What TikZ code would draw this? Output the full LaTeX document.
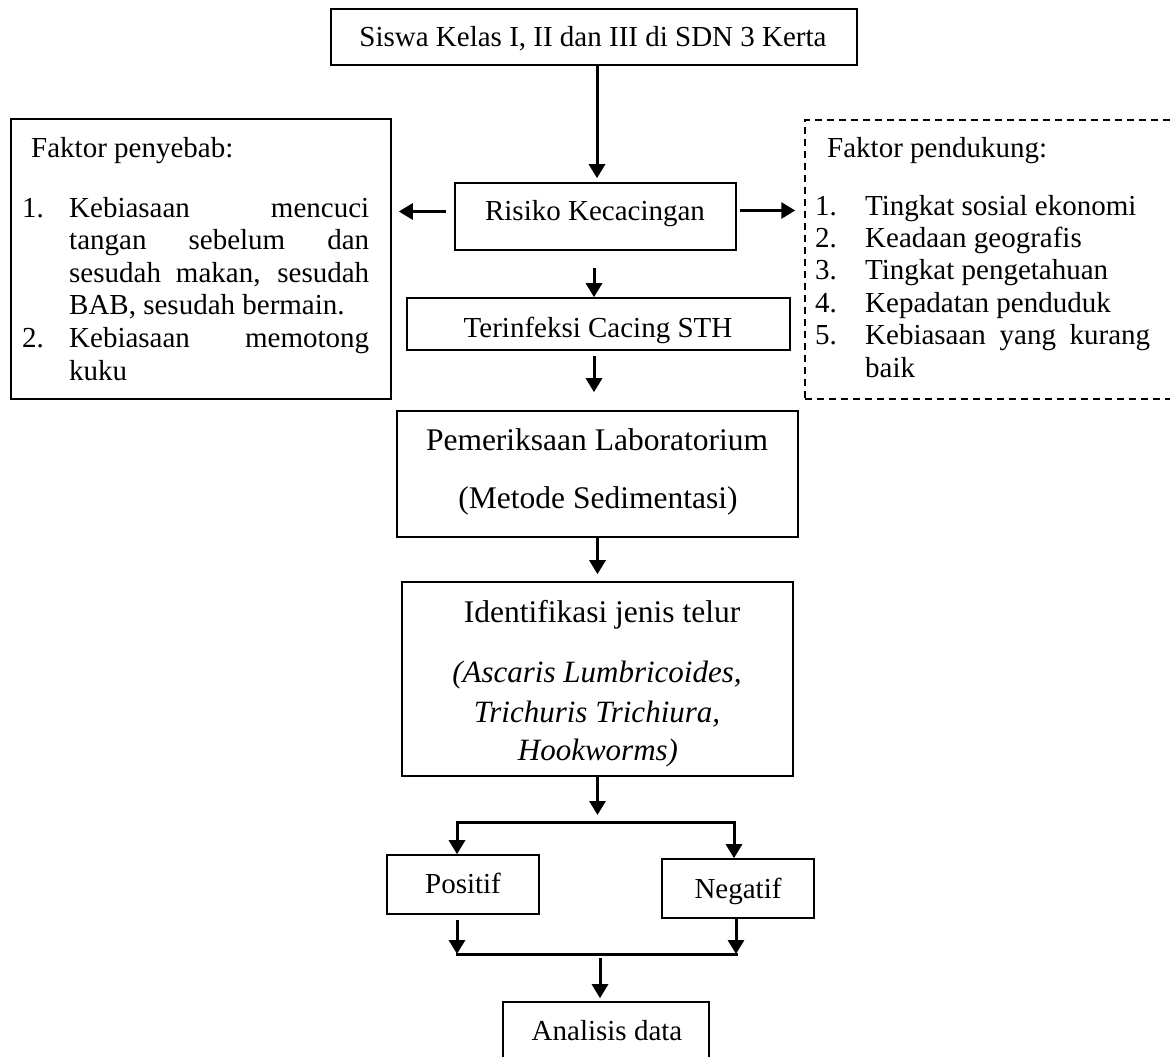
\documentclass[tikz,border=0pt]{standalone}
\usepackage{fontspec}
\setmainfont{Liberation Serif}
\usetikzlibrary{arrows.meta}
\tikzset{
  box/.style={draw, line width=1.6pt, inner sep=0pt, rectangle},
  dbox/.style={draw, line width=1.5pt, inner sep=0pt, rectangle, dash pattern=on 7pt off 5pt},
  conn/.style={line width=3pt},
  arr/.style={conn, -{Triangle[width=16pt,length=14pt]}},
  txt/.style={anchor=base, inner sep=0pt, font=\fontsize{29}{32}\selectfont},
  bigtxt/.style={anchor=base, inner sep=0pt, font=\fontsize{31.5}{35}\selectfont},
  ittxt/.style={anchor=base, inner sep=0pt, font=\fontsize{31}{35}\selectfont\itshape},
  lt/.style={anchor=base west, inner sep=0pt, font=\fontsize{29}{32}\selectfont},
}
\begin{document}
\begin{tikzpicture}[x=1pt,y=-1pt]
\useasboundingbox (0,0) rectangle (1170,1057);
\fill[white] (0,0) rectangle (1170,1057);
\clip (0,0) rectangle (1170,1057);

% boxes
\node[box, minimum width=526pt, minimum height=56pt] (top) at (594,37) {};
\node[box, minimum width=380pt, minimum height=280pt] (cause) at (201,259) {};
\node[dbox, minimum width=385pt, minimum height=279pt] (support) at (997.5,259.5) {};
\node[box, minimum width=281pt, minimum height=67pt] (risk) at (595.5,216.5) {};
\node[box, minimum width=383pt, minimum height=52pt] (inf) at (598.5,324) {};
\node[box, minimum width=401pt, minimum height=126pt] (lab) at (597.5,474) {};
\node[box, minimum width=391pt, minimum height=194pt] (ident) at (597.5,679) {};
\node[box, minimum width=152pt, minimum height=59pt] (pos) at (463,884.5) {};
\node[box, minimum width=152pt, minimum height=59pt] (neg) at (738,888.5) {};
\node[box, minimum width=206pt, minimum height=78pt] (ana) at (606,1041) {};

% texts in boxes
\node[txt] (ttop) at (593,47) {Siswa Kelas I, II dan III di SDN 3 Kerta};
\node[txt] (trisk) at (595,220.7) {Risiko Kecacingan};
\node[txt] (tinf) at (598,337) {Terinfeksi Cacing STH};
\node[bigtxt] (tlab1) at (597,450) {Pemeriksaan Laboratorium};
\node[bigtxt] (tlab2) at (598,508) {(Metode Sedimentasi)};
\node[bigtxt] (tid1) at (602,622) {Identifikasi jenis telur};
\node[ittxt] (tid2) at (597,682) {(Ascaris Lumbricoides,};
\node[ittxt] (tid3) at (597,722) {Trichuris Trichiura,};
\node[ittxt] (tid4) at (598,760) {Hookworms)};
\node[txt] (tpos) at (463,893) {Positif};
\node[txt] (tneg) at (738,898) {Negatif};
\node[txt] (tana) at (607,1040) {Analisis data};

% left box text
\node[lt] (cH) at (31,157) {Faktor penyebab:};
\node[lt] (cn1) at (22,217) {1.};
\node[lt] (cl1) at (69,217) {\makebox[300pt][s]{Kebiasaan mencuci}};
\node[lt] (cl2) at (69,249.6) {\makebox[300pt][s]{tangan sebelum dan}};
\node[lt] (cl3) at (69,282.2) {\makebox[300pt][s]{sesudah makan, sesudah}};
\node[lt] (cl4) at (69,314.8) {BAB, sesudah bermain.};
\node[lt] (cn2) at (22,347.4) {2.};
\node[lt] (cl5) at (69,347.4) {\makebox[300pt][s]{Kebiasaan memotong}};
\node[lt] (cl6) at (69,380) {kuku};

% right box text
\node[lt] (sH) at (827,157) {Faktor pendukung:};
\node[lt] (sn1) at (815,215) {1.};
\node[lt] (sn2) at (815,247.4) {2.};
\node[lt] (sn3) at (815,279.8) {3.};
\node[lt] (sn4) at (815,312.2) {4.};
\node[lt] (sn5) at (815,344.6) {5.};
\node[lt] (sl1) at (865,215) {Tingkat sosial ekonomi};
\node[lt] (sl2) at (865,247.4) {Keadaan geografis};
\node[lt] (sl3) at (865,279.8) {Tingkat pengetahuan};
\node[lt] (sl4) at (865,312.2) {Kepadatan penduduk};
\node[lt] (sl5) at (865,344.6) {\makebox[285pt][s]{Kebiasaan yang kurang}};
\node[lt] (sl6) at (865,377) {baik};

% connectors
\draw[arr, shorten >=4pt] ([xshift=3pt]top.south) -- ([xshift=3pt]top.south |- risk.north);
\draw[arr, shorten <=8pt, shorten >=7pt] ([yshift=5pt]risk.west) -- ([yshift=5pt]risk.west -| cause.east);
\draw[arr, shorten <=3pt, shorten >=9pt] ([yshift=6pt]risk.east) -- ([yshift=6pt]risk.east -| support.west);
\draw[arr, shorten <=17pt] ([xshift=-1.5pt]risk.south) -- ([xshift=-1.5pt]risk.south |- inf.north);
\draw[arr, shorten <=5pt, shorten >=18pt] ([xshift=-1.5pt]risk.south |- inf.south) -- ([xshift=-1.5pt]risk.south |- lab.north);
\draw[arr, shorten >=7pt] (lab.south) -- (lab.south |- ident.north);

\coordinate (sp) at (597.5,822);
\coordinate (bL) at (457,822);
\coordinate (bR) at (734,822);
\coordinate (mL) at (457,954);
\coordinate (mR) at (736,954);
\coordinate (mM) at (600,954);

\draw[arr, shorten >=7pt] (ident.south) -- (sp);
\draw[conn, line cap=rect] (bL) -- (bR);
\draw[arr] (bL) -- (pos.north -| bL);
\draw[arr] (bR) -- (neg.north -| bR);
\draw[arr, shorten <=5pt] (pos.south -| mL) -- (mL);
\draw[arr] (neg.south -| mR) -- (mR);
\draw[conn, line cap=rect] (mL) -- (mR);
\draw[arr, shorten <=4pt, shorten >=3pt] (mM) -- (mM |- ana.north);
\end{tikzpicture}
\end{document}
